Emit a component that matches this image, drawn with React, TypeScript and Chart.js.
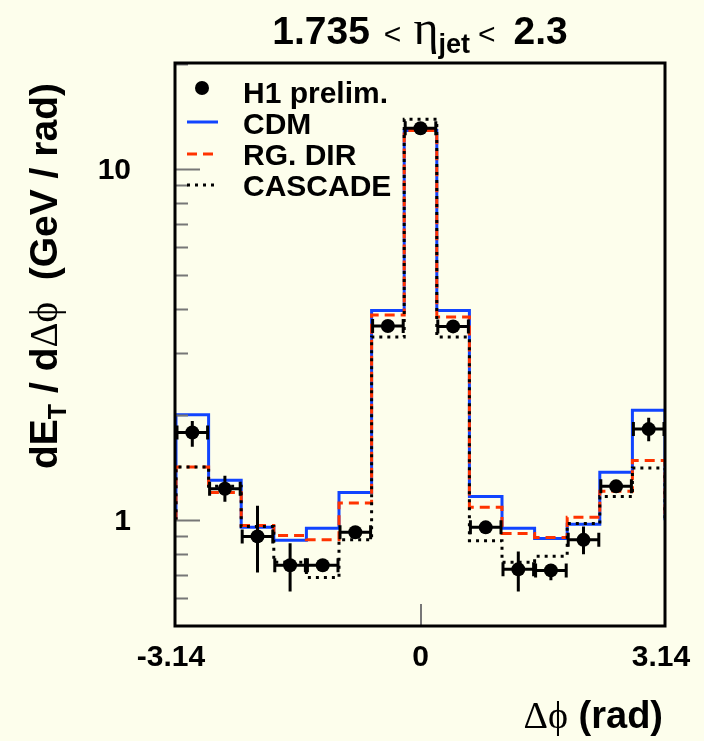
import React, { useEffect, useRef } from 'react';
import { Chart, registerables } from 'chart.js';

Chart.register(...registerables);

// ---- data ----
const binEdges = [-3.1416, -2.7227, -2.3038, -1.885, -1.4661, -1.0472, -0.6283, -0.2094, 0.2094, 0.6283, 1.0472, 1.4661, 1.885, 2.3038, 2.7227, 3.1416];
const h1Values = [1.78, 1.23, 0.9, 0.745, 0.745, 0.925, 3.58, 13.1, 3.57, 0.955, 0.725, 0.72, 0.88, 1.25, 1.82];
const h1Upper = [1.92, 1.34, 1.1, 0.86, 0.77, 0.96, 3.72, 13.6, 3.71, 0.99, 0.815, 0.745, 0.96, 1.3, 1.96];
const h1Lower = [1.62, 1.13, 0.71, 0.627, 0.72, 0.89, 3.44, 12.6, 3.43, 0.92, 0.627, 0.675, 0.8, 1.2, 1.68];
const cdmValues = [2.0, 1.3, 0.955, 0.877, 0.949, 1.2, 3.96, 12.9, 3.96, 1.17, 0.949, 0.888, 0.974, 1.37, 2.06];
const rgDirValues = [1.42, 1.2, 0.967, 0.906, 0.88, 1.12, 3.85, 12.9, 3.8, 1.09, 0.918, 0.894, 1.02, 1.21, 1.48];
const cascadeValues = [1.42, 1.25, 0.96, 0.76, 0.687, 0.88, 3.33, 13.9, 3.33, 0.875, 0.76, 0.79, 0.98, 1.17, 1.41];
const histBaseline = 1;

const xMin = -3.1416;
const xMax = 3.1416;
const yMin = 0.5;
const yMax = 20.1;

const xTickValues = [-3.1416, 0, 3.1416];
const xTickLabels = ['-3.14', '0', '3.14'];
const xTickMarks = [0];
const yMajorTicks = [1, 10];
const yMajorLabels = ['1', '10'];
const yMinorTicks = [0.6, 0.7, 0.8, 0.9, 2, 3, 4, 5, 6, 7, 8, 9, 20];
const legendLabels = ['H1 prelim.', 'CDM', 'RG. DIR', 'CASCADE'];

// ---- style ----
const BG = '#FDFEEC';
const BLUE = '#1144FF';
const RED = '#FF3300';
const SANS = '"Liberation Sans", Arial, Helvetica, sans-serif';
const SERIF = '"Liberation Serif", "DejaVu Serif", serif';

function histPoints(values: number[]) {
  const pts: { x: number; y: number }[] = [{ x: binEdges[0], y: histBaseline }];
  values.forEach((v, i) => pts.push({ x: binEdges[i], y: v }));
  pts.push({ x: binEdges[binEdges.length - 1], y: values[values.length - 1] });
  pts.push({ x: binEdges[binEdges.length - 1], y: histBaseline });
  return pts;
}

const binCenters = binEdges.slice(0, -1).map((e, i) => (e + binEdges[i + 1]) / 2);

type Seg = { t: string; font: string; dy?: number; gap?: number };

function drawSegments(ctx: CanvasRenderingContext2D, segs: Seg[], x: number, y: number, align: 'center' | 'right' | 'left') {
  let total = 0;
  const widths = segs.map((s) => {
    ctx.font = s.font;
    const w = ctx.measureText(s.t).width + (s.gap || 0);
    total += w;
    return w;
  });
  let cx = align === 'center' ? x - total / 2 : align === 'right' ? x - total : x;
  ctx.textAlign = 'left';
  ctx.textBaseline = 'alphabetic';
  segs.forEach((s, i) => {
    ctx.font = s.font;
    ctx.fillText(s.t, cx, y + (s.dy || 0));
    cx += widths[i];
  });
}

const decorPlugin = {
  id: 'decor',
  beforeDraw(chart: any) {
    const ctx = chart.ctx;
    ctx.save();
    ctx.fillStyle = BG;
    ctx.fillRect(0, 0, chart.width, chart.height);
    ctx.restore();
  },
  afterDatasetsDraw(chart: any) {
    const ctx = chart.ctx as CanvasRenderingContext2D;
    const xs = chart.scales.x;
    const ys = chart.scales.y;
    ctx.save();
    ctx.strokeStyle = '#000';
    ctx.lineWidth = 3;
    ctx.lineCap = 'butt';
    h1Values.forEach((v, i) => {
      const xl = xs.getPixelForValue(binEdges[i]) + 1;
      const xr = xs.getPixelForValue(binEdges[i + 1]) - 1;
      const cx = xs.getPixelForValue(binCenters[i]);
      const cy = ys.getPixelForValue(v);
      const yu = ys.getPixelForValue(h1Upper[i]);
      const yl = ys.getPixelForValue(h1Lower[i]);
      ctx.beginPath();
      ctx.moveTo(xl, cy);
      ctx.lineTo(xr, cy);
      ctx.moveTo(xl, cy - 7);
      ctx.lineTo(xl, cy + 7);
      ctx.moveTo(xr, cy - 7);
      ctx.lineTo(xr, cy + 7);
      ctx.moveTo(cx, yu);
      ctx.lineTo(cx, yl);
      ctx.stroke();
    });
    ctx.restore();
  },
  afterDraw(chart: any) {
    const ctx = chart.ctx as CanvasRenderingContext2D;
    const xs = chart.scales.x;
    const ys = chart.scales.y;
    const a = chart.chartArea;
    ctx.save();

    // ticks (inside frame)
    ctx.strokeStyle = '#777';
    ctx.lineWidth = 2;
    ctx.beginPath();
    yMajorTicks.forEach((v) => {
      const y = Math.round(ys.getPixelForValue(v)) + 0.5;
      ctx.moveTo(a.left, y);
      ctx.lineTo(a.left + 24, y);
    });
    yMinorTicks.forEach((v) => {
      const y = Math.round(ys.getPixelForValue(v)) + 0.5;
      ctx.moveTo(a.left, y);
      ctx.lineTo(a.left + 12, y);
    });
    xTickMarks.forEach((v) => {
      const x = Math.round(xs.getPixelForValue(v));
      ctx.moveTo(x, a.bottom);
      ctx.lineTo(x, a.bottom - 22);
    });
    ctx.stroke();

    // frame
    ctx.strokeStyle = '#000';
    ctx.lineWidth = 3;
    ctx.strokeRect(a.left - 1, a.top, a.right - a.left + 1, a.bottom - a.top);

    ctx.fillStyle = '#000';
    // y tick labels
    ctx.font = `bold 30px ${SANS}`;
    ctx.textAlign = 'right';
    ctx.textBaseline = 'middle';
    yMajorTicks.forEach((v, i) => {
      ctx.fillText(yMajorLabels[i], 131, ys.getPixelForValue(v) + 1);
    });
    // x tick labels
    ctx.textAlign = 'center';
    xTickValues.forEach((v, i) => {
      let x = xs.getPixelForValue(v);
      if (i === 0) x -= 5;
      if (i === xTickValues.length - 1) x -= 4;
      ctx.fillText(xTickLabels[i], x, 658);
    });

    // title
    drawSegments(
      ctx,
      [
        { t: '1.735', font: `bold 39px ${SANS}`, gap: 14 },
        { t: '<', font: `30px ${SANS}`, gap: 12 },
        { t: 'η', font: `48px ${SERIF}` },
        { t: 'jet', font: `bold 27px ${SANS}`, dy: 9, gap: 8 },
        { t: '<', font: `30px ${SANS}`, gap: 18 },
        { t: '2.3', font: `bold 39px ${SANS}` },
      ],
      420,
      44,
      'center'
    );

    // x axis title
    drawSegments(
      ctx,
      [
        { t: 'Δϕ', font: `38px ${SERIF}` },
        { t: ' (rad)', font: `bold 38px ${SANS}` },
      ],
      663,
      728,
      'right'
    );

    // y axis title (rotated)
    ctx.save();
    ctx.translate(57, 276);
    ctx.rotate(-Math.PI / 2);
    drawSegments(
      ctx,
      [
        { t: 'dE', font: `bold 39px ${SANS}` },
        { t: 'T', font: `bold 25px ${SANS}`, dy: 9 },
        { t: ' / d', font: `bold 39px ${SANS}` },
        { t: 'Δϕ', font: `39px ${SERIF}` },
        { t: '  (GeV / rad)', font: `bold 39px ${SANS}` },
      ],
      0,
      0,
      'center'
    );
    ctx.restore();

    // legend
    const symX0 = 187;
    const symX1 = 218;
    const baselines = [103, 134, 165, 196];
    ctx.beginPath();
    ctx.arc(202, 88, 7, 0, Math.PI * 2);
    ctx.fill();
    ctx.lineWidth = 3;
    ctx.setLineDash([]);
    ctx.strokeStyle = BLUE;
    ctx.beginPath();
    ctx.moveTo(symX0, 122);
    ctx.lineTo(symX1, 122);
    ctx.stroke();
    ctx.strokeStyle = RED;
    ctx.setLineDash([10, 6]);
    ctx.beginPath();
    ctx.moveTo(symX0, 154);
    ctx.lineTo(symX1, 154);
    ctx.stroke();
    ctx.strokeStyle = '#000';
    ctx.setLineDash([3, 5]);
    ctx.beginPath();
    ctx.moveTo(symX0, 185);
    ctx.lineTo(symX1, 185);
    ctx.stroke();
    ctx.setLineDash([]);
    ctx.font = `bold 30px ${SANS}`;
    ctx.textAlign = 'left';
    ctx.textBaseline = 'alphabetic';
    legendLabels.forEach((l, i) => ctx.fillText(l, 243, baselines[i]));

    ctx.restore();
  },
};

export default function App() {
  const ref = useRef<HTMLCanvasElement | null>(null);
  useEffect(() => {
    document.body.style.margin = '0';
    document.body.style.background = BG;
    const canvas = ref.current;
    if (!canvas) return;
    const histStyle = {
      type: 'line' as const,
      stepped: 'before' as const,
      borderWidth: 3,
      pointRadius: 0,
      fill: false,
      tension: 0,
    };
    const chart = new Chart(canvas, {
      type: 'line',
      data: {
        datasets: [
          {
            label: 'H1 prelim.',
            data: binCenters.map((x, i) => ({ x, y: h1Values[i] })),
            showLine: false,
            pointRadius: 7,
            pointBackgroundColor: '#000',
            pointBorderColor: '#000',
            pointBorderWidth: 0,
            borderColor: '#000',
          },
          {
            ...histStyle,
            label: 'CASCADE',
            data: histPoints(cascadeValues),
            borderColor: '#000',
            borderDash: [3, 5],
          },
          {
            ...histStyle,
            label: 'RG. DIR',
            data: histPoints(rgDirValues),
            borderColor: RED,
            borderDash: [10, 6],
          },
          {
            ...histStyle,
            label: 'CDM',
            data: histPoints(cdmValues),
            borderColor: BLUE,
          },
        ] as any,
      },
      options: {
        animation: false,
        responsive: false,
        devicePixelRatio: 1,
        layout: { padding: { left: 176, right: 39, top: 63, bottom: 115 } },
        plugins: { legend: { display: false }, tooltip: { enabled: false }, title: { display: false } },
        scales: {
          x: { type: 'linear', min: xMin, max: xMax, display: false, bounds: 'data' },
          y: { type: 'logarithmic', min: yMin, max: yMax, display: false, bounds: 'data' },
        },
        events: [],
      } as any,
      plugins: [decorPlugin],
    });
    return () => chart.destroy();
  }, []);
  return (
    <div style={{ width: 704, height: 741, background: BG }}>
      <canvas ref={ref} width={704} height={741} style={{ display: 'block', width: 704, height: 741 }} />
    </div>
  );
}
